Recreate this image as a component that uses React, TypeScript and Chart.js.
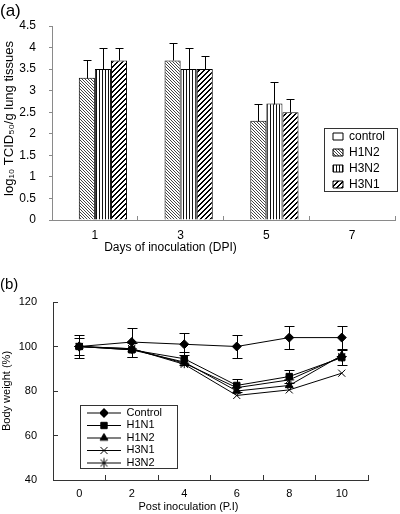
import React, { useEffect, useRef } from 'react';
import { Chart, registerables } from 'chart.js';
import { drawPoint } from 'chart.js/helpers';

Chart.register(...registerables);

// ---------- (a) virus titres ----------
const dpiLabels = ['1', '3', '5', '7'];
const controlTiter = [0, 0, 0, 0];
const h1n2Titer = [3.3, 3.7, 2.3, 0];
const h3n2Titer = [3.5, 3.5, 2.7, 0];
const h3n1Titer = [3.7, 3.5, 2.5, 0];
const controlTiterErr = [0, 0, 0, 0];
const h1n2TiterErr = [0.4, 0.4, 0.4, 0];
const h3n2TiterErr = [0.5, 0.5, 0.5, 0];
const h3n1TiterErr = [0.3, 0.3, 0.3, 0];

// ---------- (b) body weight ----------
const piLabels = ['0', '2', '4', '6', '8', '10'];
const controlWeight = [100, 102, 101, 100, 104, 104];
const h1n1Weight = [100, 98.5, 94.5, 82.5, 86.5, 95];
const h1n2Weight = [100, 98.5, 93, 80, 82.5, 96];
const h3n1Weight = [100, 99, 92, 78, 80.5, 88];
const h3n2Weight = [100, 99, 92.5, 81.5, 85, 95.5];
const controlWeightErr = [5, 6.5, 5, 5, 5, 5];
const h1n1WeightErr = [4, 3, 3, 3, 3, 3.5];

const FONT = "'Liberation Sans', Arial, Helvetica, sans-serif";

function makePattern(kind: string) {
  const c = document.createElement('canvas');
  const g = c.getContext('2d') as CanvasRenderingContext2D;
  if (kind === 'back') {
    c.width = 3; c.height = 3;
    g.fillStyle = '#fff'; g.fillRect(0, 0, 3, 3);
    g.fillStyle = '#444';
    for (let i = 0; i < 3; i++) g.fillRect(i, i, 1, 1);
  } else if (kind === 'vert') {
    c.width = 3; c.height = 3;
    g.fillStyle = '#fff'; g.fillRect(0, 0, 3, 3);
    g.fillStyle = '#111'; g.fillRect(0, 0, 1, 3);
  } else {
    c.width = 5; c.height = 5;
    g.fillStyle = '#fff'; g.fillRect(0, 0, 5, 5);
    g.fillStyle = '#000';
    for (let y = 0; y < 5; y++) for (let x = 0; x < 5; x++) {
      const s = (x + y) % 5;
      if (s === 3 || s === 4) g.fillRect(x, y, 1, 1);
    }
  }
  return g.createPattern(c, 'repeat') as CanvasPattern;
}

function legendSample(style: string, radius: number) {
  const c = document.createElement('canvas');
  c.width = 34; c.height = 12;
  const g = c.getContext('2d') as CanvasRenderingContext2D;
  g.strokeStyle = '#000'; g.fillStyle = '#000'; g.lineWidth = 1;
  g.beginPath(); g.moveTo(0, 6.5); g.lineTo(34, 6.5); g.stroke();
  drawPoint(g, { pointStyle: style, radius, rotation: 0, borderWidth: 1 } as any, 17, 6.5);
  return c;
}

const errorBarPlugin = {
  id: 'errorBars',
  afterDatasetsDraw(chart: any, _a: any, opts: any) {
    const ctx = chart.ctx;
    const yScale = chart.scales.y;
    chart.data.datasets.forEach((ds: any, i: number) => {
      const errs = ds.errors;
      if (!errs) return;
      const meta = chart.getDatasetMeta(i);
      meta.data.forEach((el: any, j: number) => {
        const e = errs[j];
        if (!e) return;
        const v = ds.data[j];
        const x = Math.round(el.x) + 0.5;
        const yTop = Math.round(yScale.getPixelForValue(v + e)) + 0.5;
        const yBot = Math.round(yScale.getPixelForValue(opts.symmetric ? v - e : v)) + 0.5;
        ctx.save();
        ctx.strokeStyle = opts.color;
        ctx.lineWidth = 1;
        ctx.beginPath();
        ctx.moveTo(x, yTop); ctx.lineTo(x, yBot);
        ctx.moveTo(x - opts.cap, yTop); ctx.lineTo(x + opts.cap, yTop);
        if (opts.symmetric) { ctx.moveTo(x - opts.cap, yBot); ctx.lineTo(x + opts.cap, yBot); }
        ctx.stroke();
        ctx.restore();
      });
    });
  },
};

const legendFramePlugin = {
  id: 'legendFrame',
  afterLayout(chart: any, _a: any, opts: any) {
    const lg = chart.legend;
    if (!lg || !opts.rect) return;
    const [x, y, w, h] = opts.rect;
    lg.left = x + opts.offsetX;
    lg.top = y + opts.offsetY;
    lg.right = x + w;
    lg.bottom = y + h + 40;
    lg.width = lg.right - lg.left;
    lg.height = lg.bottom - lg.top;
  },
  afterDraw(chart: any, _a: any, opts: any) {
    if (!opts.rect) return;
    const [x, y, w, h] = opts.rect;
    const ctx = chart.ctx;
    ctx.save();
    ctx.strokeStyle = opts.color;
    ctx.lineWidth = 1;
    ctx.strokeRect(x + 0.5, y + 0.5, w, h);
    ctx.restore();
  },
};

const titleShiftPlugin = {
  id: 'titleShift',
  afterLayout(chart: any, _a: any, opts: any) {
    Object.keys(opts || {}).forEach((id) => {
      const s = chart.scales[id];
      const shift = opts[id];
      if (!s || !Array.isArray(shift) || s._titleShifted) return;
      const orig = s.drawTitle;
      s.drawTitle = function () {
        this.ctx.save();
        this.ctx.translate(shift[0], shift[1]);
        orig.call(this);
        this.ctx.restore();
      };
      s._titleShifted = true;
    });
  },
};

export default function App() {
  const refA = useRef<HTMLCanvasElement>(null);
  const refB = useRef<HTMLCanvasElement>(null);

  useEffect(() => {
    Chart.defaults.font.family = FONT;
    Chart.defaults.color = '#000';

    const patBack = makePattern('back');
    const patVert = makePattern('vert');
    const patFwd = makePattern('fwd');

    const axisA = '#8a8a8a';
    const chartA = new Chart(refA.current as HTMLCanvasElement, {
      type: 'bar',
      data: {
        labels: dpiLabels,
        datasets: [
          { label: 'control', data: controlTiter, errors: controlTiterErr, backgroundColor: '#fff', borderColor: '#000', borderWidth: 1 } as any,
          { label: 'H1N2', data: h1n2Titer, errors: h1n2TiterErr, backgroundColor: patBack, borderColor: '#000', borderWidth: 1 } as any,
          { label: 'H3N2', data: h3n2Titer, errors: h3n2TiterErr, backgroundColor: patVert, borderColor: '#000', borderWidth: 1 } as any,
          { label: 'H3N1', data: h3n1Titer, errors: h3n1TiterErr, backgroundColor: patFwd, borderColor: '#000', borderWidth: 1 } as any,
        ],
      },
      options: {
        responsive: false,
        animation: false,
        layout: { padding: { left: 0, right: 5, top: 0, bottom: 0 } },
        datasets: { bar: { categoryPercentage: 0.75, barPercentage: 1 } },
        scales: {
          x: {
            type: 'category',
            offset: true,
            grid: { offset: true, drawOnChartArea: false, drawTicks: true, tickLength: -4, color: axisA },
            border: { display: true, color: axisA },
            ticks: { padding: 12, color: '#000', font: { size: 12 } },
            title: { display: true, text: 'Days of inoculation (DPI)', color: '#000', font: { size: 12 }, padding: { top: 0, bottom: 2 } },
            afterFit: (s: any) => { s.height = 37; },
          },
          y: {
            min: 0,
            max: 4.5,
            ticks: { stepSize: 0.5, padding: 13, color: '#000', font: { size: 12 }, callback: (v: any) => String(Number(v)) },
            grid: { drawOnChartArea: false, drawTicks: true, tickLength: 3, color: axisA },
            border: { display: true, color: axisA },
            title: { display: true, text: 'log₁₀ TCID₅₀/g lung tissues', color: '#000', font: { size: 13 }, padding: { top: 1.5, bottom: 0 } },
            afterFit: (s: any) => { s.width = 52; },
          },
        } as any,
        plugins: {
          title: { display: true, text: '(a)', align: 'start', color: '#000', font: { size: 17, weight: 'normal' }, padding: { top: 1, bottom: 4.6 } },
          legend: {
            position: 'chartArea',
            align: 'start',
            labels: { boxWidth: 10, boxHeight: 7, padding: 4, color: '#000', font: { size: 12 } },
          },
          tooltip: { enabled: false },
          errorBars: { symmetric: false, cap: 4, color: '#000' },
          legendFrame: { rect: [324, 128, 73, 63], offsetX: 5, offsetY: -1.5, color: '#333' },
          titleShift: { x: [-53, 0], y: [0, -4.5] },
        } as any,
      },
      plugins: [errorBarPlugin, legendFramePlugin, titleShiftPlugin] as any,
    } as any);

    const styles = [
      { label: 'Control', data: controlWeight, errors: controlWeightErr, style: 'rectRot', r: 4.5 },
      { label: 'H1N1', data: h1n1Weight, errors: h1n1WeightErr, style: 'rect', r: 4.5 },
      { label: 'H1N2', data: h1n2Weight, errors: null, style: 'triangle', r: 4.5 },
      { label: 'H3N1', data: h3n1Weight, errors: null, style: 'crossRot', r: 5 },
      { label: 'H3N2', data: h3n2Weight, errors: null, style: 'star', r: 5 },
    ];
    const samples = styles.map((s) => legendSample(s.style, s.r));
    const axisB = '#333';

    const chartB = new Chart(refB.current as HTMLCanvasElement, {
      type: 'line',
      data: {
        labels: piLabels,
        datasets: styles.map((s) => ({
          label: s.label,
          data: s.data,
          errors: s.errors,
          borderColor: '#000',
          backgroundColor: '#000',
          borderWidth: 1,
          tension: 0,
          fill: false,
          pointStyle: s.style,
          pointRadius: s.r,
          pointBackgroundColor: '#000',
          pointBorderColor: '#000',
          pointBorderWidth: 1,
        })) as any,
      },
      options: {
        responsive: false,
        animation: false,
        layout: { padding: { left: 0, right: 32, top: 0, bottom: 0 } },
        scales: {
          x: {
            type: 'category',
            offset: true,
            grid: { offset: true, drawOnChartArea: false, drawTicks: true, tickLength: -5, color: axisB },
            border: { display: true, color: axisB },
            ticks: { padding: 12, color: '#000', font: { size: 11 } },
            title: { display: true, text: 'Post inoculation (P.I)', color: '#000', font: { size: 11 }, padding: { top: 0, bottom: 0 } },
            afterFit: (s: any) => { s.height = 34; },
          },
          y: {
            min: 40,
            max: 120,
            ticks: { stepSize: 20, padding: 21, color: '#000', font: { size: 11 } },
            grid: { drawOnChartArea: false, drawTicks: true, tickLength: -5, color: axisB },
            border: { display: true, color: axisB },
            title: { display: true, text: 'Body weight (%)', color: '#000', font: { size: 11 }, padding: { top: 0, bottom: 0 } },
            afterFit: (s: any) => { s.width = 53; },
          },
        } as any,
        plugins: {
          title: { display: true, text: '(b)', align: 'start', color: '#000', font: { size: 15, weight: 'normal' }, padding: { top: 19, bottom: 8 } },
          legend: {
            position: 'chartArea',
            align: 'start',
            labels: {
              usePointStyle: true,
              pointStyleWidth: 34,
              padding: 1.5,
              color: '#000',
              font: { size: 11 },
              generateLabels: (chart: any) => {
                const items = (Chart.defaults.plugins.legend.labels as any).generateLabels(chart);
                return items.map((it: any, i: number) => ({ ...it, pointStyle: samples[i] }));
              },
            },
          },
          tooltip: { enabled: false },
          errorBars: { symmetric: true, cap: 5, color: '#000' },
          legendFrame: { rect: [80, 148, 97, 63], offsetX: 5.5, offsetY: 0.5, color: '#333' },
          titleShift: { x: [-22, 0] },
        } as any,
      },
      plugins: [errorBarPlugin, legendFramePlugin, titleShiftPlugin] as any,
    } as any);

    return () => {
      chartA.destroy();
      chartB.destroy();
    };
  }, []);

  return (
    <div style={{ position: 'absolute', left: 0, top: 0, width: 400, height: 514, background: '#fff' }}>
      <canvas ref={refA} width={400} height={257} style={{ position: 'absolute', left: 0, top: 0, display: 'block' }} />
      <canvas ref={refB} width={400} height={257} style={{ position: 'absolute', left: 0, top: 257, display: 'block' }} />
    </div>
  );
}
